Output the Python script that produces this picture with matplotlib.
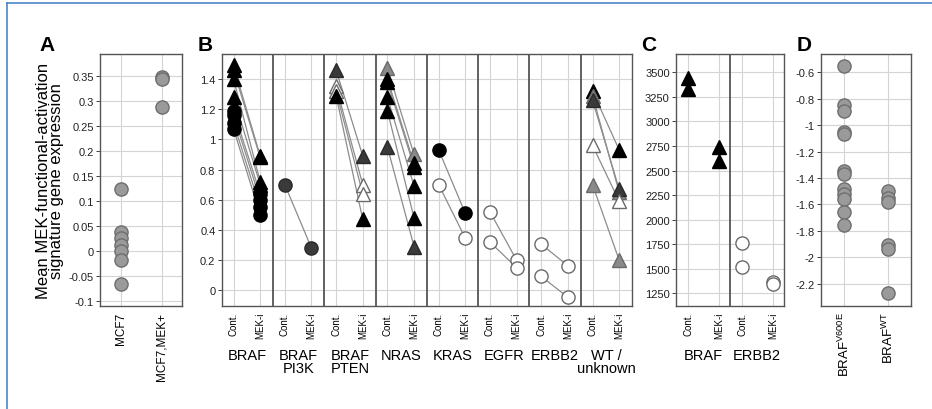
import matplotlib
matplotlib.use("Agg")
import matplotlib.pyplot as plt
from matplotlib.lines import Line2D
import matplotlib.transforms as mtransforms

plt.rcParams['font.family'] = ['Liberation Sans', 'DejaVu Sans']
plt.rcParams['mathtext.fontset'] = 'custom'
plt.rcParams['mathtext.rm'] = 'Liberation Sans'

# ---- panel A data
a_cats = ["MCF7", "MCF7,MEK+"]
a_mcf7 = [0.123, 0.038, 0.025, 0.012, 0.0, -0.018, -0.067]
a_mek = [0.347, 0.343, 0.288]

# ---- panel B data: per group, pairs of (control, MEK-i, marker, style)
b_groups = ["BRAF", "BRAF\nPI3K", "BRAF\nPTEN", "NRAS", "KRAS", "EGFR", "ERBB2", "WT /\nunknown"]
b_cont = [
    [1.49, 1.46, 1.40, 1.28, 1.19, 1.16, 1.11, 1.07],
    [0.70],
    [1.46, 1.35, 1.32, 1.29],
    [1.47, 1.40, 1.38, 1.28, 1.19, 0.95],
    [0.93, 0.70],
    [0.52, 0.32],
    [0.305, 0.092],
    [1.32, 1.29, 1.26, 0.96, 0.70],
]
b_mek = [
    [0.89, 0.88, 0.72, 0.70, 0.64, 0.60, 0.55, 0.50],
    [0.28],
    [0.89, 0.70, 0.64, 0.47],
    [0.90, 0.84, 0.82, 0.69, 0.48, 0.29],
    [0.51, 0.345],
    [0.20, 0.15],
    [0.163, -0.046],
    [0.93, 0.65, 0.67, 0.59, 0.20],
]
b_marker = [
    ["^", "^", "^", "^", "o", "o", "o", "o"],
    ["o"],
    ["^", "^", "^", "^"],
    ["^", "^", "^", "^", "^", "^"],
    ["o", "o"],
    ["o", "o"],
    ["o", "o"],
    ["^", "^", "^", "^", "^"],
]
# k = black, d = dark grey, g = grey, w = open
b_style = [
    ["k", "k", "k", "k", "k", "k", "k", "k"],
    ["d"],
    ["d", "w", "w", "k"],
    ["g", "k", "k", "k", "k", "d"],
    ["k", "w"],
    ["w", "w"],
    ["w", "w"],
    ["k", "g", "d", "w", "g"],
]

# ---- panel C data
c_groups = ["BRAF", "ERBB2"]
c_braf_cont = [3439, 3330]
c_braf_mek = [2736, 2599]
c_erbb2_cont = [1764, 1516]
c_erbb2_mek = [1365, 1345]

# ---- panel D data
d_cats = [r"BRAF$^{\mathrm{V600E}}$", r"BRAF$^{\mathrm{WT}}$"]
d_v600e = [-0.55, -0.85, -0.89, -1.05, -1.07, -1.35, -1.37, -1.48, -1.52, -1.56, -1.66, -1.76]
d_wt = [-1.50, -1.55, -1.58, -1.91, -1.94, -2.27]

face = {"k": "black", "d": "#3a3a3a", "g": "#8a8a8a", "w": "white"}
edge = {"k": "black", "d": "#2a2a2a", "g": "#6a6a6a", "w": "#6a6a6a"}

fig = plt.figure(figsize=(9.32, 4.10), dpi=100)

y0, h = 0.2512, 0.6146
axA = fig.add_axes([0.1073, y0, 0.088, h])
axB = fig.add_axes([0.2379, y0, 0.4402, h])
axC = fig.add_axes([0.7253, y0, 0.1159, h])
axD = fig.add_axes([0.8806, y0, 0.0969, h])

def style(ax):
    ax.grid(True, color="#d4d4d4", lw=0.8)
    ax.set_axisbelow(True)
    for s in ax.spines.values():
        s.set_color("#555555")
        s.set_linewidth(1.0)
    ax.tick_params(axis="y", labelsize=8, length=3, width=0.6, pad=1.5, colors="#222222")
    ax.tick_params(axis="x", labelsize=7, length=0, pad=4)

grey_dot = dict(marker="o", ms=9.5, mfc="#9a9a9a", mec="#6e6e6e", mew=1.0, ls="none")

# ---- A
style(axA)
axA.plot([0] * len(a_mcf7), a_mcf7, **grey_dot)
axA.plot([1] * len(a_mek), a_mek, **grey_dot)
axA.set_xlim(-0.53, 1.51)
axA.set_ylim(-0.111, 0.393)
axA.set_yticks([-0.1, -0.05, 0, 0.05, 0.1, 0.15, 0.2, 0.25, 0.3, 0.35])
axA.set_yticklabels(["-0.1", "-0.05", "0", "0.05", "0.1", "0.15", "0.2", "0.25", "0.3", "0.35"])
axA.set_xticks([0, 1])
axA.set_xticklabels(a_cats, rotation=90, fontsize=8.5)
axA.set_ylabel("Mean MEK-functional-activation\nsignature gene expression", fontsize=12, labelpad=3, linespacing=0.85)

# ---- B
style(axB)
xc, xm = 0.23, 0.75
for g in range(len(b_groups)):
    for c, m, mk, st in zip(b_cont[g], b_mek[g], b_marker[g], b_style[g]):
        axB.plot([g + xc, g + xm], [c, m], color="#8c8c8c", lw=0.9, zorder=2)
    for c, m, mk, st in zip(b_cont[g], b_mek[g], b_marker[g], b_style[g]):
        ms = 10 if mk == "^" else 9.5
        axB.plot([g + xc, g + xm], [c, m], marker=mk, ms=ms, mfc=face[st], mec=edge[st],
                 mew=1.0, ls="none", zorder=3)
for g in range(1, len(b_groups)):
    axB.axvline(g, color="#555555", lw=1.3, zorder=4)
axB.set_xlim(0, len(b_groups))
axB.set_ylim(-0.104, 1.565)
axB.set_yticks([0, 0.2, 0.4, 0.6, 0.8, 1.0, 1.2, 1.4])
axB.set_yticklabels(["0", "0.2", "0.4", "0.6", "0.8", "1", "1.2", "1.4"])
pos = []
labs = []
for g in range(len(b_groups)):
    pos += [g + xc, g + xm]
    labs += ["Cont.", "MEK-i"]
axB.set_xticks(pos)
axB.set_xticklabels(labs, rotation=90, fontsize=7)
trB = mtransforms.blended_transform_factory(axB.transData, axB.transAxes)
for g, name in enumerate(b_groups):
    axB.text(g + 0.5, -0.165, name, transform=trB, ha="center", va="top", fontsize=10.5, linespacing=0.95)

# ---- C
style(axC)
xc2, xm2 = 0.23, 0.80
axC.plot([xc2] * len(c_braf_cont), c_braf_cont, marker="^", ms=10, mfc="black", mec="black", ls="none")
axC.plot([xm2] * len(c_braf_mek), c_braf_mek, marker="^", ms=10, mfc="black", mec="black", ls="none")
axC.plot([1 + xc2] * len(c_erbb2_cont), c_erbb2_cont, marker="o", ms=9.5, mfc="white", mec="#6a6a6a", mew=1.0, ls="none")
axC.plot([1 + xm2] * len(c_erbb2_mek), c_erbb2_mek, marker="o", ms=9.5, mfc="white", mec="#6a6a6a", mew=1.0, ls="none")
axC.axvline(1, color="#555555", lw=1.3)
axC.set_xlim(0, 2)
axC.set_ylim(1121, 3686)
axC.set_yticks(range(1250, 3501, 250))
axC.set_xticks([xc2, xm2, 1 + xc2, 1 + xm2])
axC.set_xticklabels(["Cont.", "MEK-i", "Cont.", "MEK-i"], rotation=90, fontsize=7)
trC = mtransforms.blended_transform_factory(axC.transData, axC.transAxes)
for g, name in enumerate(c_groups):
    axC.text(g + 0.5, -0.165, name, transform=trC, ha="center", va="top", fontsize=10.5)

# ---- D
style(axD)
axD.plot([0] * len(d_v600e), d_v600e, **grey_dot)
axD.plot([1] * len(d_wt), d_wt, **grey_dot)
axD.set_xlim(-0.54, 1.52)
axD.set_ylim(-2.37, -0.461)
dt = [-2.2, -2.0, -1.8, -1.6, -1.4, -1.2, -1.0, -0.8, -0.6]
axD.set_yticks(dt)
axD.set_yticklabels(["%g" % v for v in dt])
axD.set_xticks([0, 1])
axD.set_xticklabels(d_cats, rotation=90, fontsize=9.5)

# panel letters
for lab, x in [("A", 0.042), ("B", 0.212), ("C", 0.688), ("D", 0.855)]:
    fig.text(x, 0.865, lab, fontsize=15, fontweight="bold", ha="left", va="bottom")

# frame lines (top and left)
fig.add_artist(Line2D([0.0075, 1.0], [0.99, 0.99], color="#4a86c8", lw=1.2))
fig.add_artist(Line2D([0.0075, 0.0075], [0.0, 0.99], color="#4a86c8", lw=1.2))

fig.savefig("out.png", dpi=100)
